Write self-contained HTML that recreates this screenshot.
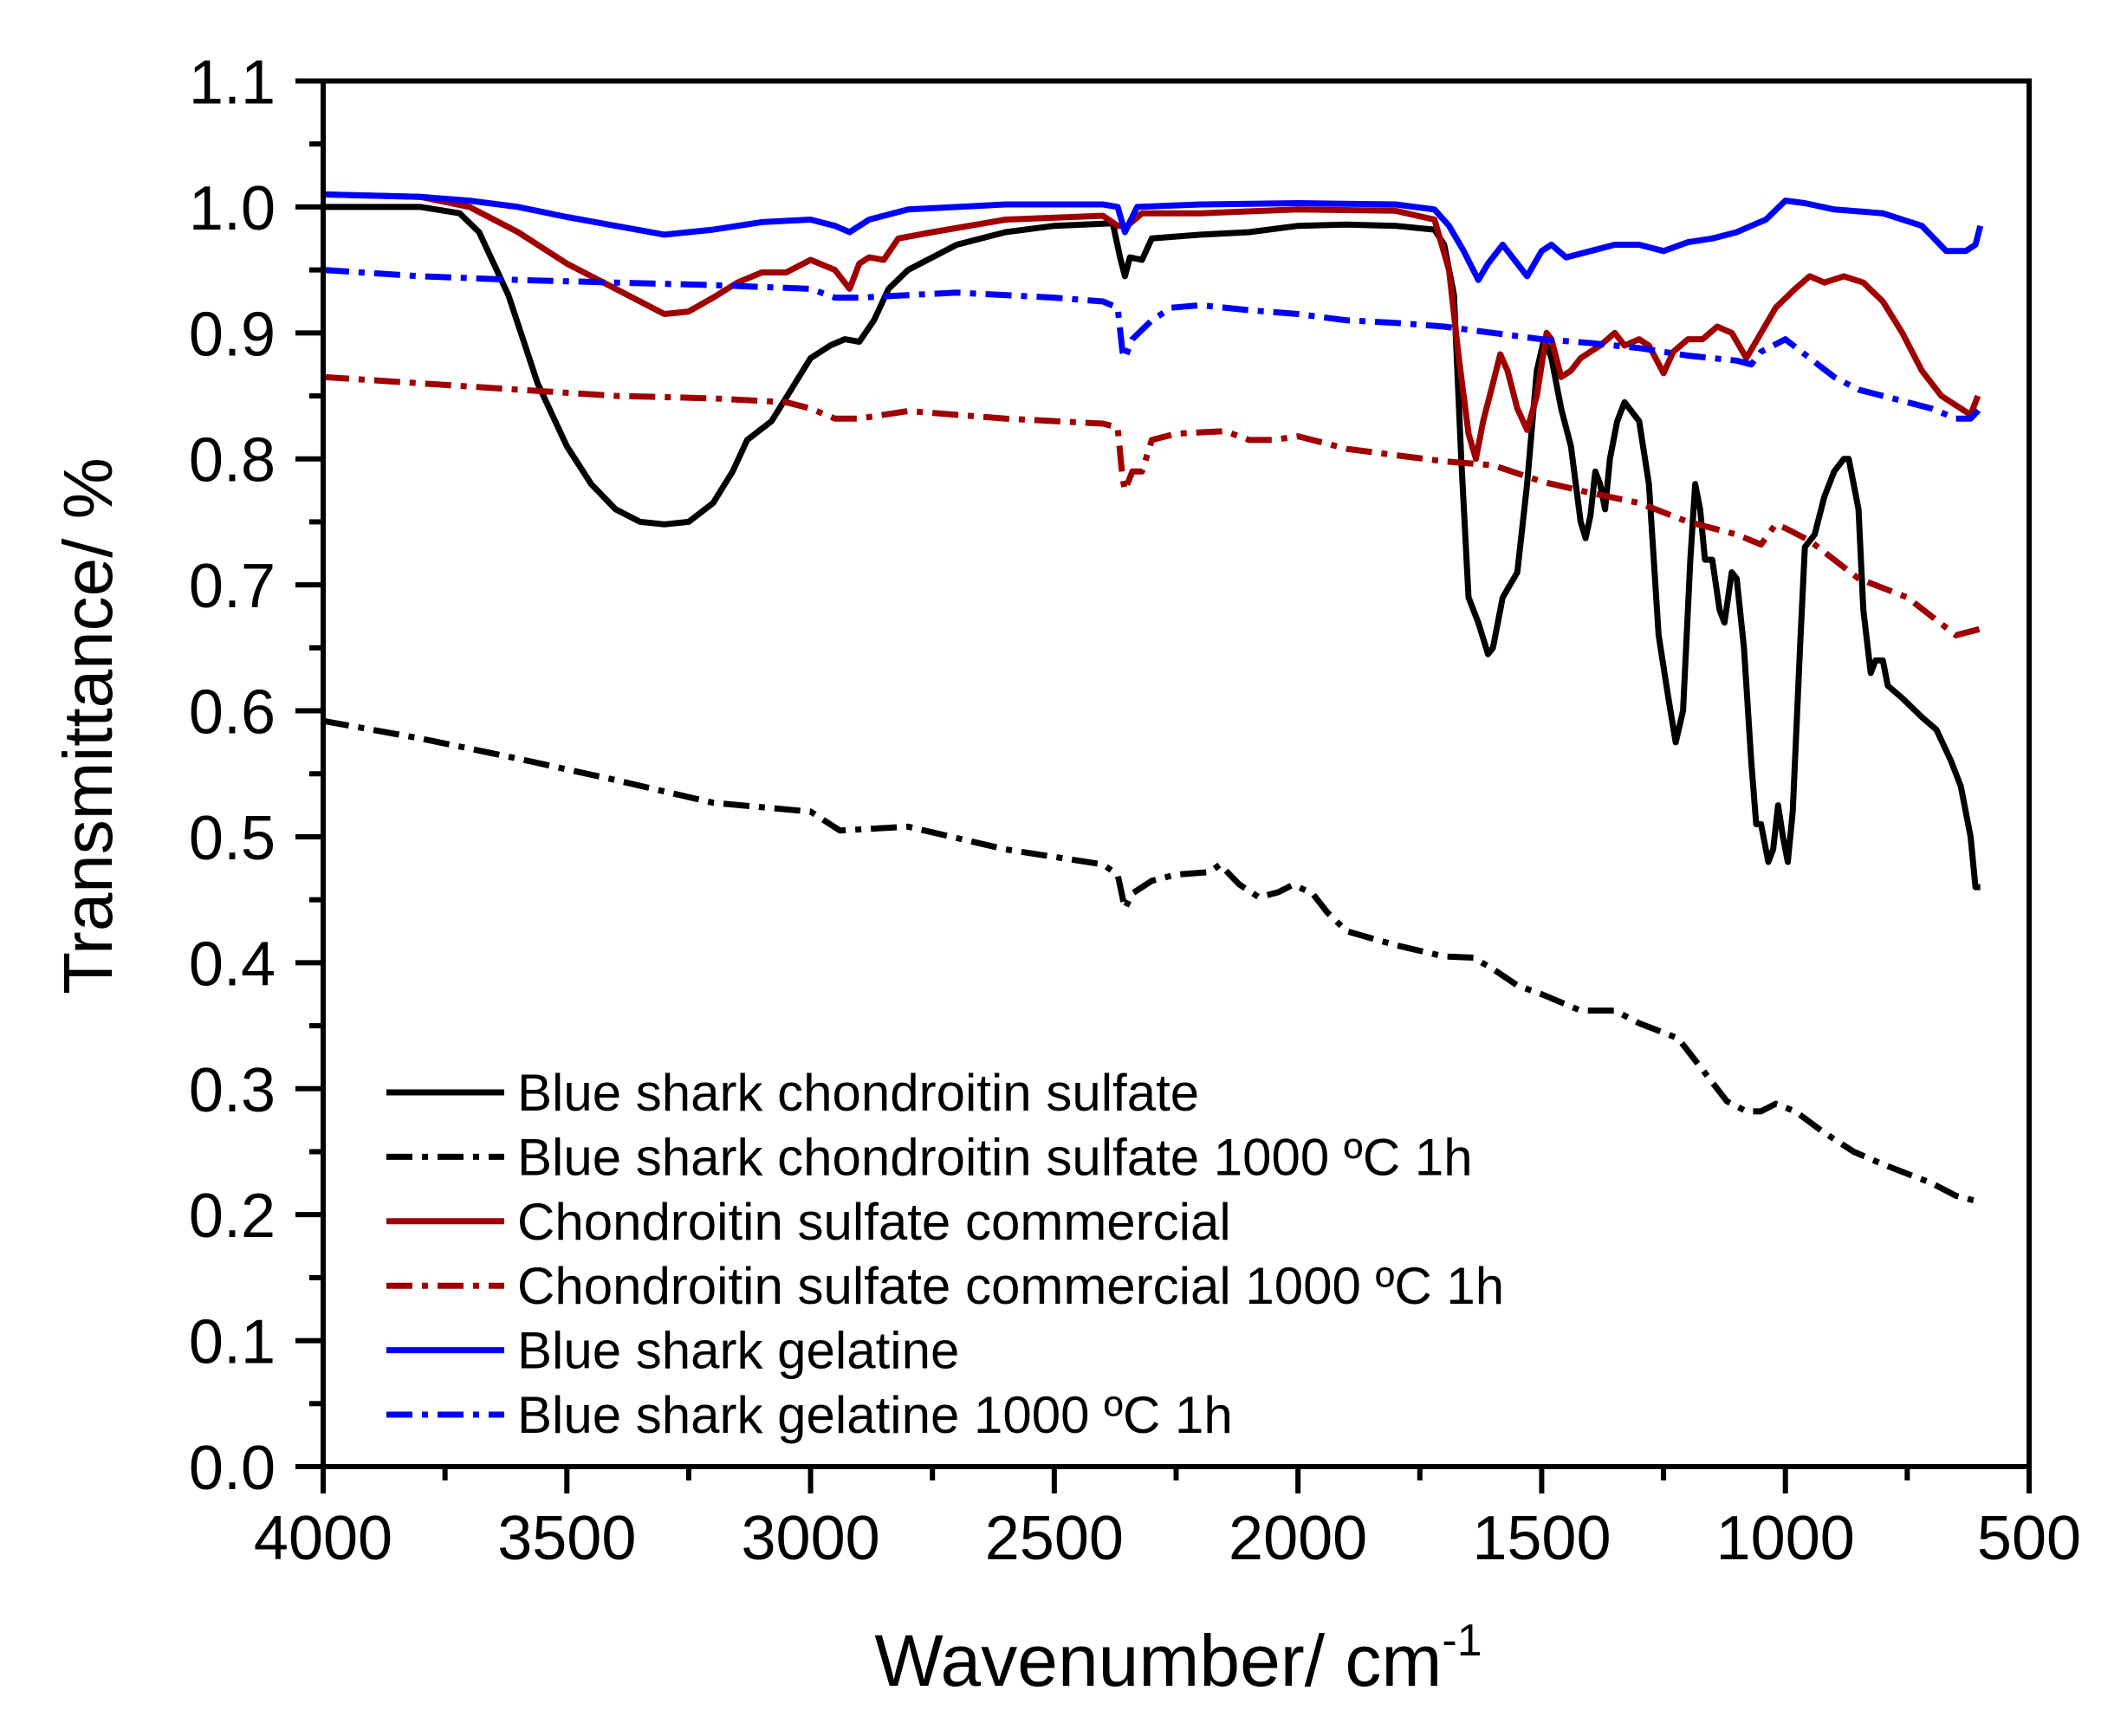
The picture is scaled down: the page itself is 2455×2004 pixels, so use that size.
<!DOCTYPE html>
<html><head><meta charset="utf-8"><style>
html,body{margin:0;padding:0;background:#fff}
svg{display:block}
text{font-family:"Liberation Sans",Arial,sans-serif;fill:#000}
</style></head><body>
<svg id="s" width="2455" height="2004" viewBox="0 0 2455 2004" xmlns="http://www.w3.org/2000/svg">
<rect width="2455" height="2004" fill="#fff"/>
<g id="ticks"></g>
<g id="series" fill="none" stroke-linejoin="round" stroke-linecap="butt"></g>
<rect x="373" y="93.5" width="1969" height="1599.5" fill="none" stroke="#000" stroke-width="6"/>
<text x="108" y="838" font-size="80" text-anchor="middle" transform="rotate(-90 108 838)" dominant-baseline="middle">Transmittance/ %</text>
<text x="1360" y="1946" font-size="84" text-anchor="middle">Wavenumber/ cm<tspan font-size="52" dy="-35">-1</tspan></text>
<g id="legend" font-size="60"></g>
</svg>
<script>
var L=373,R=2342,T=93.5,B=1693;
function X(w){return L+(4000-w)/3500*(R-L);}
function Y(t){return B-t*(B-T)/1.1;}
var NS="http://www.w3.org/2000/svg";
function el(p,n,a,txt){var e=document.createElementNS(NS,n);for(var k in a)e.setAttribute(k,a[k]);if(txt!==undefined)e.textContent=txt;p.appendChild(e);return e;}
var tg=document.getElementById('ticks');
for(var w=4000;w>=500;w-=250){var x=X(w),maj=(w%500==0);
 el(tg,'line',{x1:x,y1:B,x2:x,y2:B+(maj?31:16),stroke:'#000','stroke-width':6});
 if(maj) el(tg,'text',{x:x,y:1800,'font-size':72,'text-anchor':'middle'},String(w));}
for(var i=0;i<=22;i++){var t=i*0.05,y=Y(t),maj=(i%2==0);
 el(tg,'line',{x1:L,y1:y,x2:L-(maj?32:16),y2:y,stroke:'#000','stroke-width':6});
 if(maj) el(tg,'text',{x:318,y:y+26,'font-size':72,'text-anchor':'end'},(i/20).toFixed(1));}
var DD="30 11 7 11";
var S=[
{c:'#000',d:null,p:[4000,1.0,3800,1.0,3720,0.995,3680,0.98,3620,0.93,3560,0.86,3500,0.81,3450,0.78,3400,0.76,3350,0.75,3300,0.748,3250,0.75,3200,0.765,3160,0.79,3130,0.815,3080,0.83,3040,0.855,3000,0.88,2960,0.89,2930,0.895,2900,0.893,2870,0.91,2840,0.935,2800,0.95,2700,0.97,2600,0.98,2500,0.985,2380,0.987,2365,0.96,2355,0.945,2345,0.96,2320,0.958,2300,0.975,2200,0.978,2100,0.98,2000,0.985,1900,0.986,1800,0.985,1720,0.982,1700,0.97,1680,0.93,1665,0.8,1650,0.69,1630,0.67,1610,0.645,1600,0.65,1580,0.69,1550,0.71,1530,0.78,1510,0.87,1495,0.895,1480,0.88,1460,0.84,1440,0.81,1420,0.75,1410,0.737,1400,0.755,1390,0.79,1380,0.78,1370,0.76,1360,0.8,1345,0.83,1330,0.845,1320,0.84,1300,0.83,1280,0.78,1260,0.66,1240,0.61,1225,0.575,1210,0.6,1195,0.72,1185,0.78,1175,0.76,1165,0.72,1150,0.72,1135,0.68,1125,0.67,1110,0.71,1100,0.705,1085,0.65,1070,0.56,1060,0.51,1050,0.51,1035,0.48,1025,0.49,1015,0.525,1005,0.5,995,0.48,985,0.52,970,0.65,960,0.73,940,0.74,920,0.77,900,0.79,880,0.8,870,0.8,860,0.78,850,0.76,840,0.68,825,0.63,815,0.64,800,0.64,790,0.62,760,0.61,720,0.595,690,0.585,660,0.56,640,0.54,620,0.5,610,0.46,600,0.46]},
{c:'#000',d:DD,p:[4000,0.592,3800,0.578,3600,0.562,3400,0.545,3200,0.527,3000,0.52,2940,0.505,2800,0.508,2600,0.49,2400,0.478,2370,0.47,2355,0.443,2340,0.455,2300,0.465,2250,0.47,2180,0.472,2160,0.478,2120,0.462,2080,0.452,2040,0.456,2010,0.462,1970,0.455,1940,0.44,1900,0.425,1800,0.414,1700,0.405,1640,0.404,1600,0.395,1550,0.382,1500,0.375,1420,0.362,1350,0.362,1300,0.352,1220,0.34,1180,0.32,1120,0.29,1080,0.282,1050,0.282,1020,0.288,980,0.282,920,0.265,860,0.25,800,0.24,700,0.225,650,0.215,600,0.21]},
{c:'#a00000',d:null,p:[4000,1.01,3800,1.008,3700,1.0,3600,0.98,3500,0.955,3400,0.935,3300,0.915,3250,0.917,3200,0.928,3150,0.94,3100,0.948,3050,0.948,3000,0.958,2950,0.95,2920,0.935,2900,0.955,2880,0.96,2850,0.958,2820,0.975,2750,0.98,2600,0.99,2400,0.993,2370,0.985,2350,0.985,2320,0.995,2200,0.995,2000,0.998,1800,0.997,1720,0.99,1690,0.95,1670,0.88,1650,0.82,1635,0.8,1620,0.83,1600,0.86,1585,0.883,1570,0.87,1550,0.84,1530,0.823,1510,0.85,1490,0.9,1480,0.895,1460,0.865,1440,0.87,1420,0.88,1400,0.885,1380,0.89,1350,0.9,1330,0.89,1300,0.895,1280,0.89,1250,0.868,1230,0.885,1200,0.895,1170,0.895,1140,0.905,1110,0.9,1080,0.88,1050,0.9,1020,0.92,980,0.935,950,0.945,920,0.94,880,0.945,840,0.94,800,0.925,760,0.9,720,0.87,680,0.85,640,0.84,620,0.835,605,0.85]},
{c:'#a00000',d:DD,p:[4000,0.865,3800,0.86,3600,0.855,3400,0.85,3200,0.848,3050,0.845,3000,0.84,2950,0.832,2900,0.832,2800,0.838,2600,0.832,2400,0.828,2370,0.825,2360,0.785,2355,0.775,2340,0.79,2320,0.79,2300,0.815,2250,0.82,2150,0.822,2100,0.815,2050,0.815,2000,0.818,1900,0.808,1800,0.803,1700,0.798,1600,0.795,1500,0.782,1400,0.773,1300,0.765,1200,0.75,1100,0.74,1050,0.732,1020,0.748,1000,0.745,950,0.735,900,0.72,850,0.705,750,0.69,700,0.675,650,0.66,600,0.665]},
{c:'#0000ff',d:null,p:[4000,1.01,3800,1.008,3700,1.005,3600,1.0,3500,0.992,3400,0.985,3300,0.978,3200,0.982,3100,0.988,3000,0.99,2950,0.985,2920,0.98,2880,0.99,2800,0.998,2600,1.002,2400,1.002,2370,1.0,2355,0.98,2330,1.0,2200,1.002,2000,1.003,1800,1.002,1720,0.998,1690,0.985,1660,0.965,1630,0.942,1610,0.955,1580,0.97,1550,0.955,1530,0.945,1500,0.965,1480,0.97,1450,0.96,1400,0.965,1350,0.97,1300,0.97,1250,0.965,1200,0.972,1150,0.975,1100,0.98,1070,0.985,1040,0.99,1000,1.005,960,1.003,900,0.998,800,0.995,720,0.985,670,0.965,630,0.965,610,0.97,600,0.985]},
{c:'#0000ff',d:DD,p:[4000,0.95,3800,0.945,3600,0.942,3400,0.94,3200,0.938,3000,0.935,2950,0.928,2900,0.928,2700,0.932,2500,0.928,2400,0.925,2370,0.92,2360,0.885,2355,0.88,2340,0.895,2300,0.91,2260,0.92,2200,0.922,2100,0.918,2000,0.915,1900,0.91,1800,0.908,1700,0.905,1600,0.9,1500,0.895,1400,0.892,1300,0.888,1200,0.882,1100,0.878,1070,0.875,1050,0.885,1000,0.895,950,0.88,900,0.865,850,0.855,800,0.85,700,0.84,650,0.832,620,0.832,600,0.84]}
];
var sg=document.getElementById('series');
S.forEach(function(s){var d='';for(var i=0;i<s.p.length;i+=2)d+=(i?'L':'M')+X(s.p[i]).toFixed(1)+' '+Y(s.p[i+1]).toFixed(1);
 var a={d:d,stroke:s.c,'stroke-width':7};if(s.d)a['stroke-dasharray']=s.d;el(sg,'path',a);});
var names=["Blue shark chondroitin sulfate","Blue shark chondroitin sulfate 1000 ºC 1h","Chondroitin sulfate commercial","Chondroitin sulfate commercial 1000 ºC 1h","Blue shark gelatine","Blue shark gelatine 1000 ºC 1h"];
var lg=document.getElementById('legend');
for(var i=0;i<6;i++){var y=1261+i*74.4;
 var a={x1:446,y1:y,x2:582,y2:y,stroke:S[i].c,'stroke-width':7};if(S[i].d)a['stroke-dasharray']=S[i].d;el(lg,'line',a);
 el(lg,'text',{x:597,y:y+21},names[i]);}
</script>
</body></html>
